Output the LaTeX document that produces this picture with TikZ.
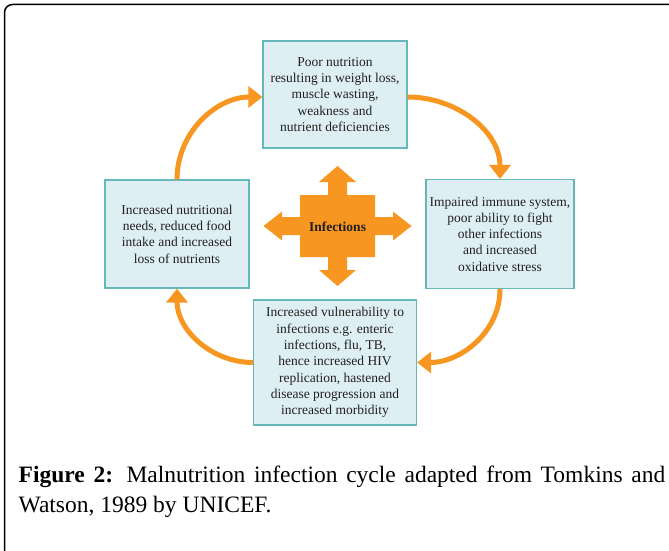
\documentclass[tikz,border=0pt]{standalone}
\usepackage{fontspec}
\setmainfont{Liberation Serif}
\usetikzlibrary{arrows.meta}

\definecolor{boxfill}{RGB}{221,239,242}
\definecolor{boxline}{RGB}{102,182,186}
\definecolor{cycleorange}{RGB}{247,150,32}
\definecolor{boxtext}{RGB}{35,31,32}

\tikzset{
  cyclebox/.style={draw=boxline, line width=1.2pt, fill=boxfill, align=center,
    inner sep=0pt, text=boxtext, font=\fontsize{13.5}{16.3}\selectfont},
  cyclearrow/.style={draw=cycleorange, line width=5pt,
    -{Triangle[length=14pt, width=21pt]}}
}

\begin{document}
\begin{tikzpicture}[x=1pt, y=1pt]
        \useasboundingbox (0,0) rectangle (669,-551);
        % Frame
        \draw[line width=1.5pt, rounded corners=8pt] (4.5,-551) -- (4.5,-4.5) -- (669,-4.5);

        % Nodes
        \node[cyclebox, minimum width=144pt, minimum height=107pt] (poor) at (335,-94.5)
          {Poor nutrition\\resulting in weight loss,\\muscle wasting,\\weakness and\\nutrient deficiencies};
        \node[cyclebox, minimum width=148pt, minimum height=109pt] (immune) at (500,-234)
          {Impaired immune system,\\poor ability to fight\\other infections\\and increased\\oxidative stress};
        \node[cyclebox, minimum width=163pt, minimum height=125pt] (vuln) at (335,-362.5)
          {Increased vulnerability to\\infections e.g. enteric\\infections, flu, TB,\\hence increased HIV\\replication, hastened\\disease progression and\\increased morbidity};
        \node[cyclebox, minimum width=144pt, minimum height=108pt] (needs) at (177,-234)
          {Increased nutritional\\needs, reduced food\\intake and increased\\loss of nutrients};

        % Infections cross
        \fill[cycleorange, shift={(337.5,-226)}]
          (0,60) -- (18.5,44) -- (9.5,44) -- (9.5,31) -- (37.5,31) -- (37.5,9) -- (55.5,9)
          -- (55.5,14.5) -- (74,0) -- (55.5,-14.5) -- (55.5,-9) -- (37.5,-9) -- (37.5,-31)
          -- (9.5,-31) -- (9.5,-44) -- (18.5,-44) -- (0,-60) -- (-18.5,-44) -- (-9.5,-44)
          -- (-9.5,-31) -- (-37.5,-31) -- (-37.5,-9) -- (-55.5,-9) -- (-55.5,-14.5) -- (-74,0)
          -- (-55.5,14.5) -- (-55.5,9) -- (-37.5,9) -- (-37.5,31) -- (-9.5,31) -- (-9.5,44)
          -- (-18.5,44) -- cycle;
        \node[font=\fontsize{13.5}{16}\selectfont\bfseries, text=boxtext] (inf) at (337.5,-226.5) {Infections};

        % Cycle
        \draw[cyclearrow] ([yshift=-2.5pt]poor.east) to[out=0, in=90] (immune.north);
        \draw[cyclearrow] (immune.south) to[out=-90, in=0] (vuln.east);
        \draw[cyclearrow] (vuln.west) to[out=180, in=-90] (needs.south);
        \draw[cyclearrow] (needs.north) to[out=90, in=180] ([yshift=-2.5pt]poor.west);

        % Caption
        \node[anchor=base west, inner sep=0pt, font=\fontsize{23.5}{30}\selectfont] (capA) at (18.5,-482)
          {\makebox[646.5pt][s]{\textbf{Figure 2:} Malnutrition infection cycle adapted from Tomkins and}};
        \node[anchor=base west, inner sep=0pt, font=\fontsize{23.5}{30}\selectfont] (capB) at (18.5,-512)
          {Watson, 1989 by UNICEF.};
\end{tikzpicture}
\end{document}
